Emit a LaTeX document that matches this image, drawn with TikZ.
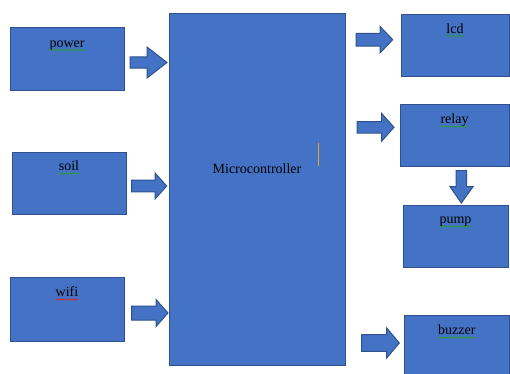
\documentclass[tikz,border=0pt]{standalone}
\usepackage{fontspec}
\setmainfont{Liberation Serif}
\newfontfamily\diagfont{Liberation Serif}
\usetikzlibrary{decorations.pathmorphing}
\definecolor{boxfill}{HTML}{4472C4}
\definecolor{boxline}{HTML}{2F528F}
\definecolor{squigG}{HTML}{2E9A3A}
\definecolor{squigR}{HTML}{E02828}
\definecolor{cursor}{HTML}{E8A030}
\tikzset{
  blockbox/.style={draw=boxline, fill=boxfill, line width=1pt, rectangle, inner sep=0pt},
  word/.style={inner sep=0pt, anchor=base, font=\diagfont\fontsize{14}{16}\selectfont, text=black},
  arrowshape/.style={draw=boxline, fill=boxfill, line width=1pt, line join=miter},
  squiggle/.style={draw=#1, line width=0.6pt, decorate, decoration={snake, segment length=2.4pt, amplitude=0.7pt}},
}
\newcommand\rightblock[6]{%
  \draw[arrowshape] (#1,#3-#4) -- (#6,#3-#4) -- (#6,#3-#5) -- (#2,#3)
    -- (#6,#3+#5) -- (#6,#3+#4) -- (#1,#3+#4) -- cycle;}
\newcommand\wavyunder[2]{%
  \draw[squiggle=#2] ([yshift=-3pt]#1.base west) -- ([yshift=-3pt]#1.base east);}
\begin{document}
\begin{tikzpicture}[x=1pt,y=-1pt]
\clip (0,0) rectangle (510,373);
\fill[white] (0,0) rectangle (510,373);

% boxes
\node[blockbox, minimum width=114pt, minimum height=63pt] (power) at (67,58.5) {};
\node[blockbox, minimum width=114pt, minimum height=62pt] (soil) at (69,183) {};
\node[blockbox, minimum width=114pt, minimum height=64pt] (wifi) at (67,309) {};
\node[blockbox, minimum width=175.5pt, minimum height=352pt] (micro) at (257.25,189) {};
\node[blockbox, minimum width=108pt, minimum height=62.5pt] (lcd) at (455,45.25) {};
\node[blockbox, minimum width=109pt, minimum height=62pt] (relay) at (454.5,135) {};
\node[blockbox, minimum width=105pt, minimum height=62pt] (pump) at (455.5,236) {};
\node[blockbox, minimum width=104.5pt, minimum height=70pt] (buzzer) at (456.75,350) {};

% labels
\node[word] (tpower) at ([yshift=-20.5pt]power.north) {power};
\node[word] (tsoil) at ([yshift=-19pt]soil.north) {soil};
\node[word] (twifi) at ([yshift=-20pt]wifi.north) {wifi};
\node[word] (tlcd) at ([yshift=-19.5pt]lcd.north) {lcd};
\node[word] (trelay) at ([yshift=-20pt]relay.north) {relay};
\node[word] (tpump) at ([yshift=-19pt]pump.north) {pump};
\node[word] (tbuzzer) at ([yshift=-20pt]buzzer.north) {buzzer};
\node[word] (tmicro) at (257,173) {Microcontroller};

\wavyunder{tpower}{squigG}
\wavyunder{tsoil}{squigG}
\wavyunder{twifi}{squigR}
\wavyunder{tlcd}{squigG}
\wavyunder{trelay}{squigG}
\wavyunder{tpump}{squigG}
\wavyunder{tbuzzer}{squigG}

% cursor mark
\coordinate (curtop) at (318.5,143);
\coordinate (curbot) at (318.5,166);
\draw[cursor, line width=1pt] (curtop) -- (curbot);

% block arrows: tail x, tip x, centre y, shaft half, head half, head start x
\rightblock{130}{167}{62.5}{5.7}{15.5}{147}
\rightblock{131.7}{166.7}{186}{5.8}{13}{155}
\rightblock{131.7}{168}{313}{7}{13.5}{156}
\rightblock{356}{392.7}{39.7}{6.3}{13.3}{380}
\rightblock{357}{394}{127.3}{5.7}{13.8}{381.7}
\rightblock{361.7}{399.3}{343}{8.3}{15}{386.7}

% down arrow relay -> pump
\draw[arrowshape] (456,170.7) -- (466.7,170.7) -- (466.7,186.7) -- (473,186.7)
  -- (461.3,203) -- (450,186.7) -- (456,186.7) -- cycle;
\end{tikzpicture}
\end{document}
